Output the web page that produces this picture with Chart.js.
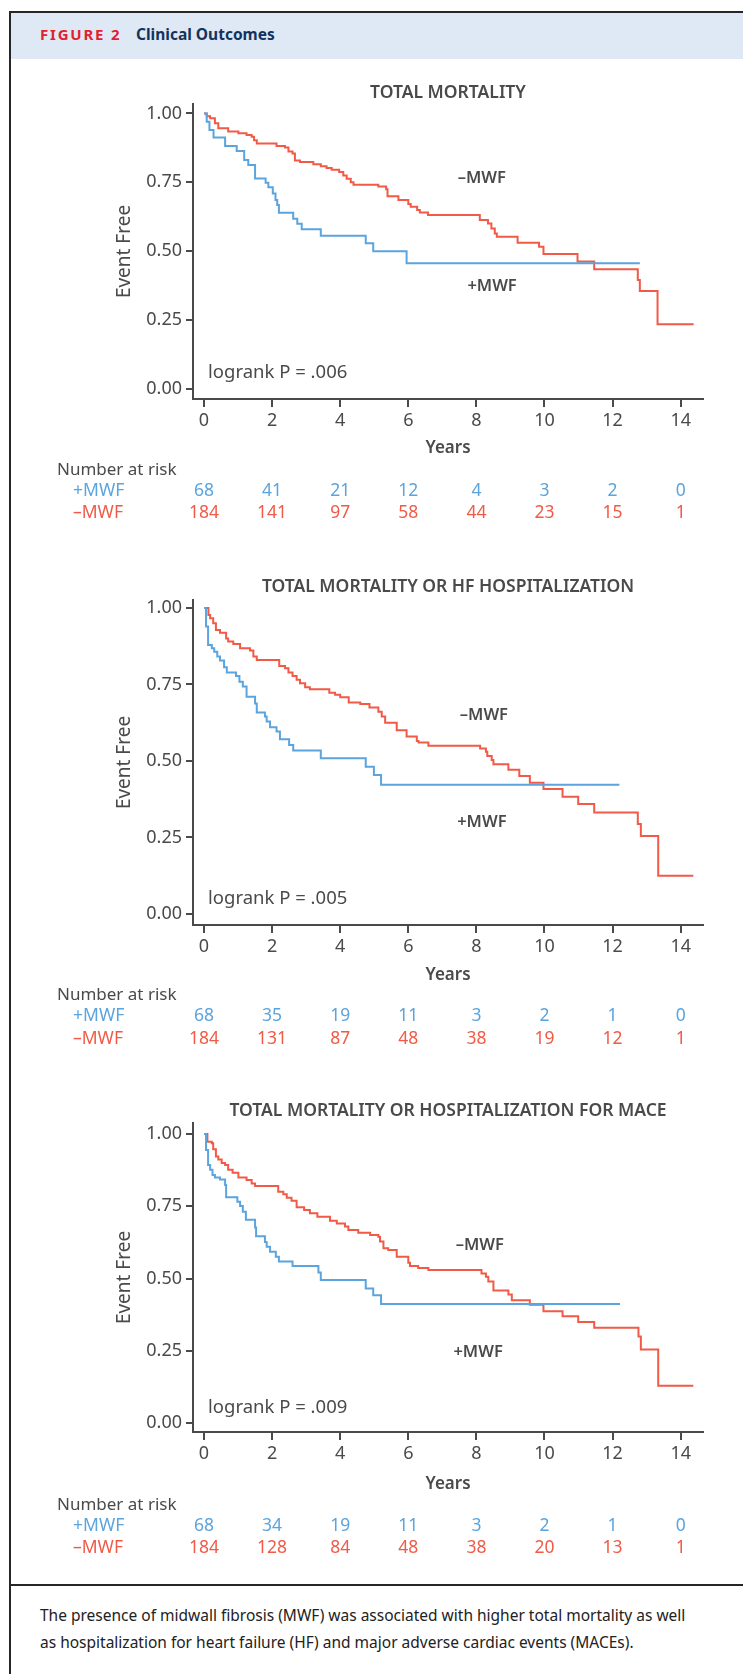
<!DOCTYPE html>
<html>
<head>
<meta charset="utf-8">
<script src="https://cdn.jsdelivr.net/npm/chart.js@4.4.1/dist/chart.umd.min.js"></script>
<style>
  body { margin: 0; width: 743px; height: 1674px; position: relative; overflow: hidden; background: #fff; font-family: 'Noto Sans', sans-serif; }
  .frame { position: absolute; left: 9px; top: 11px; width: 760px; height: 1700px; border-left: 2px solid #262626; border-top: 2px solid #262626; }
  .head { position: absolute; left: 11px; top: 13px; width: 740px; height: 46px; background: #dfe9f5; }
  .head .fig { position: absolute; left: 29px; top: 11px; font-size: 15px; font-weight: bold; color: #e3202f; letter-spacing: 1.8px; }
  .head .ttl { position: absolute; left: 125px; top: 10px; font-size: 15.5px; font-weight: bold; color: #14335c; }
  .sep { position: absolute; left: 11px; top: 1584px; width: 740px; height: 2px; background: #262626; }
  .caption { position: absolute; left: 40px; top: 1602px; font-size: 15.5px; line-height: 27px; color: #222; white-space: nowrap; }
  canvas { position: absolute; left: 0; }
</style>
</head>
<body>
<div class="frame"></div>
<div class="head"><span class="fig">FIGURE 2</span><span class="ttl">Clinical Outcomes</span></div>
<canvas id="km1" width="743" height="470" style="top:68px"></canvas>
<canvas id="km2" width="743" height="490" style="top:562px"></canvas>
<canvas id="km3" width="743" height="480" style="top:1088px"></canvas>
<div class="sep"></div>
<div class="caption">The presence of midwall fibrosis (MWF) was associated with higher total mortality as well<br>as hospitalization for heart failure (HF) and major adverse cardiac events (MACEs).</div>

<script>
// Kaplan-Meier curves, Figure 2

const xTicks = [0, 2, 4, 6, 8, 10, 12, 14];
const xTickLabels = ['0', '2', '4', '6', '8', '10', '12', '14'];
const yTicks = [0, 0.25, 0.5, 0.75, 1];
const yTickLabels = ['0.00', '0.25', '0.50', '0.75', '1.00'];
const riskTimes = [0, 2, 4, 6, 8, 10, 12, 14];
const panelTitles = ['TOTAL MORTALITY', 'TOTAL MORTALITY OR HF HOSPITALIZATION', 'TOTAL MORTALITY OR HOSPITALIZATION FOR MACE'];
const logrankLabels = ['logrank P = .006', 'logrank P = .005', 'logrank P = .009'];

// panel 1 - total mortality
const mortPlusT = [0, 0.08, 0.16, 0.28, 0.62, 0.96, 1.18, 1.30, 1.50, 1.81, 1.89, 2.02, 2.10, 2.15, 2.20, 2.62, 2.74, 2.87, 3.43, 4.75, 4.97, 5.95, 12.8];
const mortPlusS = [1, 0.97, 0.94, 0.913, 0.882, 0.864, 0.831, 0.813, 0.764, 0.749, 0.732, 0.71, 0.686, 0.668, 0.64, 0.618, 0.60, 0.58, 0.557, 0.529, 0.50, 0.457, 0.457];
const mortMinusT = [0, 0.08, 0.18, 0.32, 0.42, 0.71, 1.01, 1.25, 1.40, 1.47, 1.55, 2.13, 2.38, 2.48, 2.60, 2.67, 2.82, 3.21, 3.43, 3.60, 3.75, 3.97, 4.09, 4.19, 4.31, 4.39, 5.12, 5.35, 5.39, 5.71, 6.0, 6.07, 6.26, 6.34, 6.58, 8.10, 8.34, 8.44, 8.54, 8.60, 9.21, 9.84, 9.97, 10.97, 11.46, 12.74, 12.80, 13.32, 14.38];
const mortMinusS = [1, 0.99, 0.982, 0.964, 0.946, 0.934, 0.928, 0.922, 0.915, 0.903, 0.891, 0.882, 0.876, 0.862, 0.855, 0.829, 0.824, 0.816, 0.808, 0.802, 0.796, 0.788, 0.775, 0.763, 0.75, 0.741, 0.735, 0.725, 0.70, 0.686, 0.672, 0.662, 0.65, 0.641, 0.632, 0.614, 0.601, 0.583, 0.565, 0.553, 0.531, 0.517, 0.49, 0.463, 0.435, 0.396, 0.356, 0.236, 0.236];
const mortRiskPlus = [68, 41, 21, 12, 4, 3, 2, 0];
const mortRiskMinus = [184, 141, 97, 58, 44, 23, 15, 1];

// panel 2 - mortality or HF hospitalization
const hfPlusT = [0, 0.06, 0.12, 0.23, 0.30, 0.39, 0.47, 0.59, 0.67, 0.94, 1.04, 1.14, 1.25, 1.50, 1.55, 1.79, 1.84, 1.94, 2.13, 2.23, 2.50, 2.62, 3.43, 4.75, 4.99, 5.20, 12.2];
const hfPlusS = [1, 0.939, 0.879, 0.868, 0.857, 0.841, 0.828, 0.806, 0.789, 0.778, 0.759, 0.743, 0.71, 0.688, 0.658, 0.645, 0.629, 0.61, 0.596, 0.571, 0.552, 0.534, 0.509, 0.481, 0.454, 0.422, 0.422];
const hfMinusT = [0, 0.13, 0.18, 0.27, 0.35, 0.47, 0.65, 0.71, 0.86, 1.06, 1.35, 1.45, 1.55, 2.21, 2.38, 2.48, 2.60, 2.72, 2.82, 2.97, 3.11, 3.68, 3.85, 4.0, 4.25, 4.59, 4.86, 5.12, 5.22, 5.32, 5.66, 5.95, 6.25, 6.30, 6.59, 8.11, 8.28, 8.32, 8.45, 8.50, 8.94, 9.26, 9.57, 9.97, 10.53, 10.99, 11.46, 12.74, 12.83, 13.34, 14.37];
const hfMinusS = [1, 0.977, 0.966, 0.95, 0.928, 0.919, 0.90, 0.89, 0.882, 0.868, 0.861, 0.841, 0.83, 0.81, 0.803, 0.789, 0.778, 0.765, 0.754, 0.741, 0.734, 0.723, 0.716, 0.708, 0.691, 0.686, 0.675, 0.661, 0.645, 0.625, 0.60, 0.58, 0.565, 0.56, 0.55, 0.541, 0.530, 0.516, 0.503, 0.489, 0.471, 0.451, 0.429, 0.408, 0.383, 0.359, 0.332, 0.294, 0.255, 0.125, 0.125];
const hfRiskPlus = [68, 35, 19, 11, 3, 2, 1, 0];
const hfRiskMinus = [184, 131, 87, 48, 38, 19, 12, 1];

// panel 3 - mortality or hospitalization for MACE
const macePlusT = [0, 0.06, 0.12, 0.18, 0.25, 0.32, 0.47, 0.62, 0.65, 0.98, 1.06, 1.14, 1.23, 1.50, 1.53, 1.79, 1.84, 1.94, 2.11, 2.20, 2.60, 3.36, 3.43, 4.75, 4.97, 5.20, 12.22];
const macePlusS = [1, 0.945, 0.893, 0.876, 0.858, 0.85, 0.843, 0.824, 0.781, 0.766, 0.751, 0.731, 0.704, 0.677, 0.647, 0.627, 0.61, 0.593, 0.576, 0.559, 0.544, 0.521, 0.495, 0.466, 0.443, 0.412, 0.412];
const maceMinusT = [0, 0.10, 0.23, 0.27, 0.35, 0.42, 0.52, 0.62, 0.71, 0.84, 1.01, 1.25, 1.40, 1.50, 2.18, 2.33, 2.43, 2.57, 2.72, 2.94, 3.11, 3.33, 3.70, 3.90, 4.14, 4.24, 4.53, 4.88, 5.12, 5.17, 5.27, 5.41, 5.66, 6.0, 6.05, 6.29, 6.59, 8.15, 8.28, 8.35, 8.50, 8.94, 9.04, 9.57, 9.97, 10.53, 10.99, 11.46, 12.76, 12.83, 13.34, 14.37];
const maceMinusS = [1, 0.973, 0.968, 0.947, 0.922, 0.912, 0.90, 0.893, 0.876, 0.866, 0.85, 0.841, 0.829, 0.82, 0.80, 0.792, 0.78, 0.769, 0.747, 0.737, 0.726, 0.714, 0.70, 0.691, 0.68, 0.668, 0.659, 0.651, 0.645, 0.628, 0.605, 0.599, 0.576, 0.555, 0.544, 0.537, 0.530, 0.518, 0.507, 0.490, 0.459, 0.445, 0.425, 0.410, 0.387, 0.37, 0.35, 0.33, 0.30, 0.255, 0.13, 0.13];
const maceRiskPlus = [68, 34, 19, 11, 3, 2, 1, 0];
const maceRiskMinus = [184, 128, 84, 48, 38, 20, 13, 1];

const RED = '#f15a47';
const BLUE = '#5ba4dd';
const AXIS = '#4a4a4a';
const TEXT = '#4a4a4a';
const FONT = '"Noto Sans", sans-serif';

// page geometry of each panel (page pixels)
const panels = [
    { id: 'km1', top: 68, height: 470, plotTop: 104, plotBottom: 399, titleY: 93, yearsY: 448, narY: 470, plusY: 491, minusY: 513,
      yMin: -0.035, yMax: 1.034, minusLab: [8.16, 0.766], plusLab: [8.46, 0.374], logrankY: 0.059,
      plusT: mortPlusT, plusS: mortPlusS, minusT: mortMinusT, minusS: mortMinusS, riskPlus: mortRiskPlus, riskMinus: mortRiskMinus },
    { id: 'km2', top: 562, height: 490, plotTop: 600, plotBottom: 925, titleY: 587, yearsY: 975, narY: 995, plusY: 1016, minusY: 1039,
      yMin: -0.036, yMax: 1.026, minusLab: [8.22, 0.65], plusLab: [8.16, 0.30], logrankY: 0.049,
      plusT: hfPlusT, plusS: hfPlusS, minusT: hfMinusT, minusS: hfMinusS, riskPlus: hfRiskPlus, riskMinus: hfRiskMinus },
    { id: 'km3', top: 1088, height: 480, plotTop: 1123, plotBottom: 1432, titleY: 1111, yearsY: 1484, narY: 1505, plusY: 1526, minusY: 1548,
      yMin: -0.03, yMax: 1.038, minusLab: [8.1, 0.616], plusLab: [8.05, 0.247], logrankY: 0.053,
      plusT: macePlusT, plusS: macePlusS, minusT: maceMinusT, minusS: maceMinusS, riskPlus: maceRiskPlus, riskMinus: maceRiskMinus }
];

const X_MIN = -0.323;
const X_MAX = 14.655;
const AXIS_LEFT = 193;
const AXIS_RIGHT = 703;
const X_AXIS_H = 40;

function toXY(ts, ss) {
    return ts.map((t, i) => ({ x: t, y: ss[i] }));
}

function makePanel(p, idx) {
    const off = p.top;

    const textPlugin = {
        id: 'kmText',
        afterDraw(chart) {
            const { ctx, chartArea: a, scales: { x, y } } = chart;
            ctx.save();
            ctx.textBaseline = 'middle';
            ctx.fillStyle = TEXT;

            // title
            ctx.textAlign = 'center';
            ctx.font = `600 17.5px ${FONT}`;
            ctx.fillText(panelTitles[idx], (a.left + a.right) / 2, p.titleY - off);

            // axis titles
            ctx.font = `600 17px ${FONT}`;
            ctx.fillText('Years', (a.left + a.right) / 2, p.yearsY - off);
            ctx.save();
            ctx.translate(125, (a.top + a.bottom) / 2);
            ctx.rotate(-Math.PI / 2);
            ctx.font = `19px ${FONT}`;
            ctx.fillText('Event Free', 0, 0);
            ctx.restore();

            // logrank
            ctx.textAlign = 'left';
            ctx.font = `18.5px ${FONT}`;
            ctx.fillText(logrankLabels[idx], x.getPixelForValue(0.12), y.getPixelForValue(p.logrankY));

            // group labels
            ctx.textAlign = 'center';
            ctx.font = `600 16.5px ${FONT}`;
            ctx.fillText('\u2013MWF', x.getPixelForValue(p.minusLab[0]), y.getPixelForValue(p.minusLab[1]));
            ctx.fillText('+MWF', x.getPixelForValue(p.plusLab[0]), y.getPixelForValue(p.plusLab[1]));

            // number at risk
            ctx.font = `17px ${FONT}`;
            ctx.textAlign = 'left';
            ctx.fillText('Number at risk', 57, p.narY - off);
            ctx.font = `17.5px ${FONT}`;
            ctx.fillStyle = BLUE;
            ctx.fillText('+MWF', 73, p.plusY - off);
            ctx.fillStyle = RED;
            ctx.fillText('\u2013MWF', 73, p.minusY - off);
            ctx.textAlign = 'center';
            riskTimes.forEach((t, i) => {
                const px = x.getPixelForValue(t);
                ctx.fillStyle = BLUE;
                ctx.fillText(String(p.riskPlus[i]), px, p.plusY - off);
                ctx.fillStyle = RED;
                ctx.fillText(String(p.riskMinus[i]), px, p.minusY - off);
            });
            ctx.restore();
        }
    };

    const plotBottomLocal = p.plotBottom - off;

    return new Chart(document.getElementById(p.id), {
        type: 'line',
        data: {
            datasets: [
                { data: toXY(p.plusT, p.plusS), borderColor: BLUE, borderWidth: 2, stepped: 'before', pointRadius: 0, fill: false },
                { data: toXY(p.minusT, p.minusS), borderColor: RED, borderWidth: 2, stepped: 'before', pointRadius: 0, fill: false }
            ]
        },
        options: {
            responsive: false,
            animation: false,
            devicePixelRatio: 1,
            layout: {
                padding: { left: 0, right: 743 - AXIS_RIGHT, top: p.plotTop - off, bottom: p.height - plotBottomLocal - X_AXIS_H }
            },
            plugins: { legend: { display: false }, tooltip: { enabled: false } },
            scales: {
                x: {
                    type: 'linear',
                    min: X_MIN,
                    max: X_MAX,
                    afterBuildTicks: (ax) => { ax.ticks = xTicks.map(v => ({ value: v })); },
                    afterFit: (ax) => { ax.height = X_AXIS_H; },
                    ticks: {
                        autoSkip: false, maxRotation: 0, padding: 3,
                        color: TEXT, font: { family: FONT, size: 18 },
                        callback: (v) => xTickLabels[xTicks.indexOf(v)]
                    },
                    grid: { drawOnChartArea: false, drawTicks: true, tickLength: 8, color: AXIS, lineWidth: 2 },
                    border: { color: AXIS, width: 2 }
                },
                y: {
                    type: 'linear',
                    min: p.yMin,
                    max: p.yMax,
                    afterBuildTicks: (ax) => { ax.ticks = yTicks.map(v => ({ value: v })); },
                    afterFit: (ax) => { ax.width = AXIS_LEFT; },
                    ticks: {
                        autoSkip: false, padding: 4,
                        color: TEXT, font: { family: FONT, size: 18 },
                        callback: (v) => yTickLabels[yTicks.indexOf(v)]
                    },
                    grid: { drawOnChartArea: false, drawTicks: true, tickLength: 7, color: AXIS, lineWidth: 2 },
                    border: { color: AXIS, width: 2 }
                }
            }
        },
        plugins: [textPlugin]
    });
}

panels.forEach((p, i) => makePanel(p, i));
</script>
</body>
</html>
